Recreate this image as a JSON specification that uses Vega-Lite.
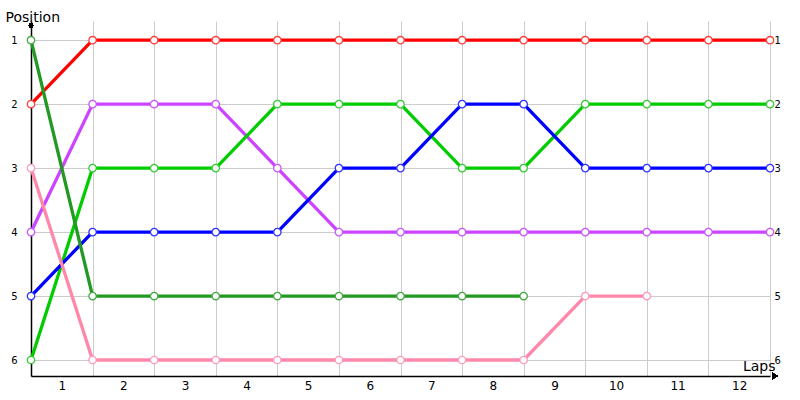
{
  "$schema": "https://vega.github.io/schema/vega-lite/v6.json",
  "width": 739,
  "height": 355,
  "autosize": "none",
  "padding": {"left": 31, "top": 21, "right": 30, "bottom": 24},
  "background": "white",
  "config": {
    "view": {"stroke": null},
    "font": "DejaVu Sans",
    "axis": {"labelFont": "DejaVu Sans", "titleFont": "DejaVu Sans", "labelColor": "black", "titleColor": "black", "titleFontWeight": "normal"}
  },
  "data": {
    "values": [
      {"driver": "Red", "lap": 0, "pos": 2}, {"driver": "Red", "lap": 1, "pos": 1}, {"driver": "Red", "lap": 2, "pos": 1},
      {"driver": "Red", "lap": 3, "pos": 1}, {"driver": "Red", "lap": 4, "pos": 1}, {"driver": "Red", "lap": 5, "pos": 1},
      {"driver": "Red", "lap": 6, "pos": 1}, {"driver": "Red", "lap": 7, "pos": 1}, {"driver": "Red", "lap": 8, "pos": 1},
      {"driver": "Red", "lap": 9, "pos": 1}, {"driver": "Red", "lap": 10, "pos": 1}, {"driver": "Red", "lap": 11, "pos": 1},
      {"driver": "Red", "lap": 12, "pos": 1},
      {"driver": "Purple", "lap": 0, "pos": 4}, {"driver": "Purple", "lap": 1, "pos": 2}, {"driver": "Purple", "lap": 2, "pos": 2},
      {"driver": "Purple", "lap": 3, "pos": 2}, {"driver": "Purple", "lap": 4, "pos": 3}, {"driver": "Purple", "lap": 5, "pos": 4},
      {"driver": "Purple", "lap": 6, "pos": 4}, {"driver": "Purple", "lap": 7, "pos": 4}, {"driver": "Purple", "lap": 8, "pos": 4},
      {"driver": "Purple", "lap": 9, "pos": 4}, {"driver": "Purple", "lap": 10, "pos": 4}, {"driver": "Purple", "lap": 11, "pos": 4},
      {"driver": "Purple", "lap": 12, "pos": 4},
      {"driver": "Green", "lap": 0, "pos": 6}, {"driver": "Green", "lap": 1, "pos": 3}, {"driver": "Green", "lap": 2, "pos": 3},
      {"driver": "Green", "lap": 3, "pos": 3}, {"driver": "Green", "lap": 4, "pos": 2}, {"driver": "Green", "lap": 5, "pos": 2},
      {"driver": "Green", "lap": 6, "pos": 2}, {"driver": "Green", "lap": 7, "pos": 3}, {"driver": "Green", "lap": 8, "pos": 3},
      {"driver": "Green", "lap": 9, "pos": 2}, {"driver": "Green", "lap": 10, "pos": 2}, {"driver": "Green", "lap": 11, "pos": 2},
      {"driver": "Green", "lap": 12, "pos": 2},
      {"driver": "Blue", "lap": 0, "pos": 5}, {"driver": "Blue", "lap": 1, "pos": 4}, {"driver": "Blue", "lap": 2, "pos": 4},
      {"driver": "Blue", "lap": 3, "pos": 4}, {"driver": "Blue", "lap": 4, "pos": 4}, {"driver": "Blue", "lap": 5, "pos": 3},
      {"driver": "Blue", "lap": 6, "pos": 3}, {"driver": "Blue", "lap": 7, "pos": 2}, {"driver": "Blue", "lap": 8, "pos": 2},
      {"driver": "Blue", "lap": 9, "pos": 3}, {"driver": "Blue", "lap": 10, "pos": 3}, {"driver": "Blue", "lap": 11, "pos": 3},
      {"driver": "Blue", "lap": 12, "pos": 3},
      {"driver": "Dark green", "lap": 0, "pos": 1}, {"driver": "Dark green", "lap": 1, "pos": 5}, {"driver": "Dark green", "lap": 2, "pos": 5},
      {"driver": "Dark green", "lap": 3, "pos": 5}, {"driver": "Dark green", "lap": 4, "pos": 5}, {"driver": "Dark green", "lap": 5, "pos": 5},
      {"driver": "Dark green", "lap": 6, "pos": 5}, {"driver": "Dark green", "lap": 7, "pos": 5}, {"driver": "Dark green", "lap": 8, "pos": 5},
      {"driver": "Pink", "lap": 0, "pos": 3}, {"driver": "Pink", "lap": 1, "pos": 6}, {"driver": "Pink", "lap": 2, "pos": 6},
      {"driver": "Pink", "lap": 3, "pos": 6}, {"driver": "Pink", "lap": 4, "pos": 6}, {"driver": "Pink", "lap": 5, "pos": 6},
      {"driver": "Pink", "lap": 6, "pos": 6}, {"driver": "Pink", "lap": 7, "pos": 6}, {"driver": "Pink", "lap": 8, "pos": 6},
      {"driver": "Pink", "lap": 9, "pos": 5}, {"driver": "Pink", "lap": 10, "pos": 5}
    ]
  },
  "layer": [
    {
      "mark": {"type": "line", "strokeWidth": 3.3},
      "encoding": {
        "x": {
          "field": "lap", "type": "quantitative",
          "scale": {"domain": [0, 12], "nice": false, "zero": false},
          "axis": {"orient": "bottom", "values": [0, 1, 2, 3, 4, 5, 6, 7, 8, 9, 10, 11, 12], "labels": false, "ticks": false, "domain": false, "grid": true, "gridColor": "#cccccc", "title": null}
        },
        "y": {
          "field": "pos", "type": "quantitative",
          "scale": {"domain": [0.7, 6.25], "reverse": true, "nice": false, "zero": false},
          "axis": {
            "orient": "left", "values": [1, 2, 3, 4, 5, 6], "grid": true, "gridColor": "#cccccc",
            "ticks": false, "labelPadding": 14, "labelFontSize": 10,
            "domain": true, "domainColor": "black", "domainWidth": 1.5,
            "title": "Position", "titleAngle": 0, "titleAlign": "left", "titleBaseline": "alphabetic",
            "titleX": -26, "titleY": 0, "titleFontSize": 14
          }
        },
        "color": {
          "field": "driver", "type": "nominal", "legend": null,
          "scale": {"domain": ["Red", "Purple", "Green", "Blue", "Dark green", "Pink"], "range": ["#ff0000", "#cc44ff", "#00cc00", "#0000ff", "#229922", "#ff88aa"]}
        }
      }
    },
    {
      "mark": {"type": "point", "filled": true, "fill": "white", "opacity": 1, "size": 55, "strokeWidth": 1.3},
      "encoding": {
        "x": {
          "field": "lap", "type": "quantitative",
          "axis": {
            "orient": "bottom", "values": [0.5, 1.5, 2.5, 3.5, 4.5, 5.5, 6.5, 7.5, 8.5, 9.5, 10.5, 11.5],
            "labelExpr": "toString(datum.value + 0.5)", "labelFontSize": 12, "labelPadding": 4,
            "ticks": false, "grid": false, "domain": true, "domainColor": "black", "domainWidth": 1.5,
            "title": "Laps", "titleFontSize": 14, "titleAlign": "right", "titleBaseline": "alphabetic",
            "titleX": 744, "titleY": -6
          }
        },
        "y": {
          "field": "pos", "type": "quantitative",
          "axis": {"orient": "right", "values": [1, 2, 3, 4, 5, 6], "grid": false, "ticks": false, "domain": false, "labelPadding": 4, "labelFontSize": 10, "title": null}
        },
        "stroke": {
          "field": "driver", "type": "nominal", "legend": null,
          "scale": {"domain": ["Red", "Purple", "Green", "Blue", "Dark green", "Pink"], "range": ["#ff4040", "#cc55ff", "#33cc33", "#3333ff", "#44aa44", "#ff99bb"]}
        }
      }
    },
    {
      "mark": {"type": "point", "shape": "triangle-right", "filled": true, "color": "black", "opacity": 1, "size": 45, "clip": false},
      "encoding": {
        "x": {"datum": 12.08, "type": "quantitative", "axis": null},
        "y": {"datum": 6.25, "type": "quantitative", "axis": null}
      }
    },
    {
      "mark": {"type": "point", "shape": "circle", "filled": true, "color": "black", "opacity": 1, "size": 18, "clip": false},
      "encoding": {
        "x": {"datum": 0, "type": "quantitative", "axis": null},
        "y": {"datum": 0.77, "type": "quantitative", "axis": null}
      }
    }
  ],
  "resolve": {"axis": {"x": "independent", "y": "independent"}}
}
